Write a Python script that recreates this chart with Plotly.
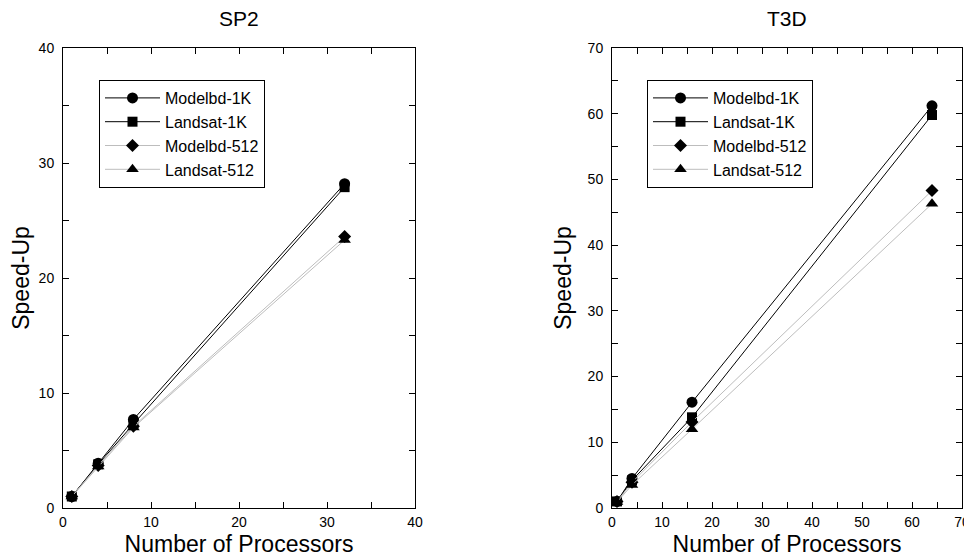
import plotly.graph_objects as go

# ---- data ----
series_names = ["Modelbd-1K", "Landsat-1K", "Modelbd-512", "Landsat-512"]

sp2_procs = [1, 4, 8, 32]
sp2_modelbd_1k = [1.0, 3.9, 7.7, 28.2]
sp2_landsat_1k = [1.0, 3.8, 7.3, 27.9]
sp2_modelbd_512 = [1.0, 3.7, 7.1, 23.6]
sp2_landsat_512 = [1.0, 3.6, 7.0, 23.3]

t3d_procs = [1, 4, 16, 64]
t3d_modelbd_1k = [1.0, 4.5, 16.1, 61.2]
t3d_landsat_1k = [1.0, 4.2, 13.8, 59.8]
t3d_modelbd_512 = [1.0, 3.9, 13.1, 48.3]
t3d_landsat_512 = [0.9, 3.5, 12.0, 46.3]

sp2_ticks = [0, 5, 10, 15, 20, 25, 30, 35, 40]
t3d_ticks = [0, 5, 10, 15, 20, 25, 30, 35, 40, 45, 50, 55, 60, 65, 70]

symbols = ["circle", "square", "diamond", "triangle-up"]
line_colors = ["#000000", "#000000", "#bdbdbd", "#bdbdbd"]
marker_sizes = [11, 10, 10, 11]

FONT = "Liberation Sans, Arial, sans-serif"

# page body has an 8px margin; size the figure to fit the 972x558 window
OFF = 8
W, H = 972 - OFF, 558 - OFF


def xp(px):
    return (px - OFF) / W


def yp(py):
    return 1 - (py - OFF) / H


fig = go.Figure()

sp2_sets = [sp2_modelbd_1k, sp2_landsat_1k, sp2_modelbd_512, sp2_landsat_512]
t3d_sets = [t3d_modelbd_1k, t3d_landsat_1k, t3d_modelbd_512, t3d_landsat_512]

for i, name in enumerate(series_names):
    fig.add_trace(go.Scatter(
        x=sp2_procs, y=sp2_sets[i], name=name, mode="lines+markers",
        line=dict(color=line_colors[i], width=1),
        marker=dict(symbol=symbols[i], size=marker_sizes[i], color="black"),
        xaxis="x", yaxis="y", legend="legend"))
for i, name in enumerate(series_names):
    fig.add_trace(go.Scatter(
        x=t3d_procs, y=t3d_sets[i], name=name, mode="lines+markers",
        line=dict(color=line_colors[i], width=1),
        marker=dict(symbol=symbols[i], size=marker_sizes[i], color="black"),
        xaxis="x2", yaxis="y2", legend="legend2"))


def tick_text(vals, step):
    return [str(v) if v % step == 0 else "" for v in vals]


def axis(domain, rng, ticks, title, anchor, standoff, label_gap):
    return dict(
        domain=domain, range=rng, anchor=anchor, automargin=False,
        tickvals=ticks, ticktext=tick_text(ticks, 10),
        ticks="inside", ticklen=6, tickwidth=1, tickcolor="black",
        ticklabelstandoff=label_gap,
        showline=True, linecolor="black", linewidth=1, mirror="ticks",
        showgrid=False, zeroline=False,
        tickfont=dict(family=FONT, size=14, color="black"),
        title=dict(text=title, font=dict(family=FONT, size=23, color="black"),
                   standoff=standoff),
    )


ydom = [yp(508), yp(48)]
legend_common = dict(xanchor="left", yanchor="top",
                     bordercolor="black", borderwidth=1, bgcolor="white",
                     font=dict(family=FONT, size=16, color="black"),
                     tracegroupgap=0, itemwidth=55)
fig.update_layout(
    width=W, height=H,
    margin=dict(l=0, r=0, t=0, b=0),
    paper_bgcolor="white", plot_bgcolor="white",
    font=dict(family=FONT, color="black"),
    xaxis=axis([xp(63), xp(415)], [0, 40], sp2_ticks, "Number of Processors", "y", 7, 1),
    yaxis=axis(ydom, [0, 40], sp2_ticks, "Speed-Up", "x", 9, 5),
    xaxis2=axis([xp(612), xp(962)], [0, 70], t3d_ticks, "Number of Processors", "y2", 7, 1),
    yaxis2=axis(ydom, [0, 70], t3d_ticks, "Speed-Up", "x2", 9, 5),
    legend=dict(x=xp(99), y=yp(80), **legend_common),
    legend2=dict(x=xp(647), y=yp(80), **legend_common),
    annotations=[
        dict(text="SP2", x=xp(239), y=yp(18), xref="paper", yref="paper",
             xanchor="center", yanchor="middle",
             showarrow=False, font=dict(family=FONT, size=21, color="black")),
        dict(text="T3D", x=xp(787), y=yp(18), xref="paper", yref="paper",
             xanchor="center", yanchor="middle",
             showarrow=False, font=dict(family=FONT, size=21, color="black")),
    ],
)

fig.write_html("out.html")
